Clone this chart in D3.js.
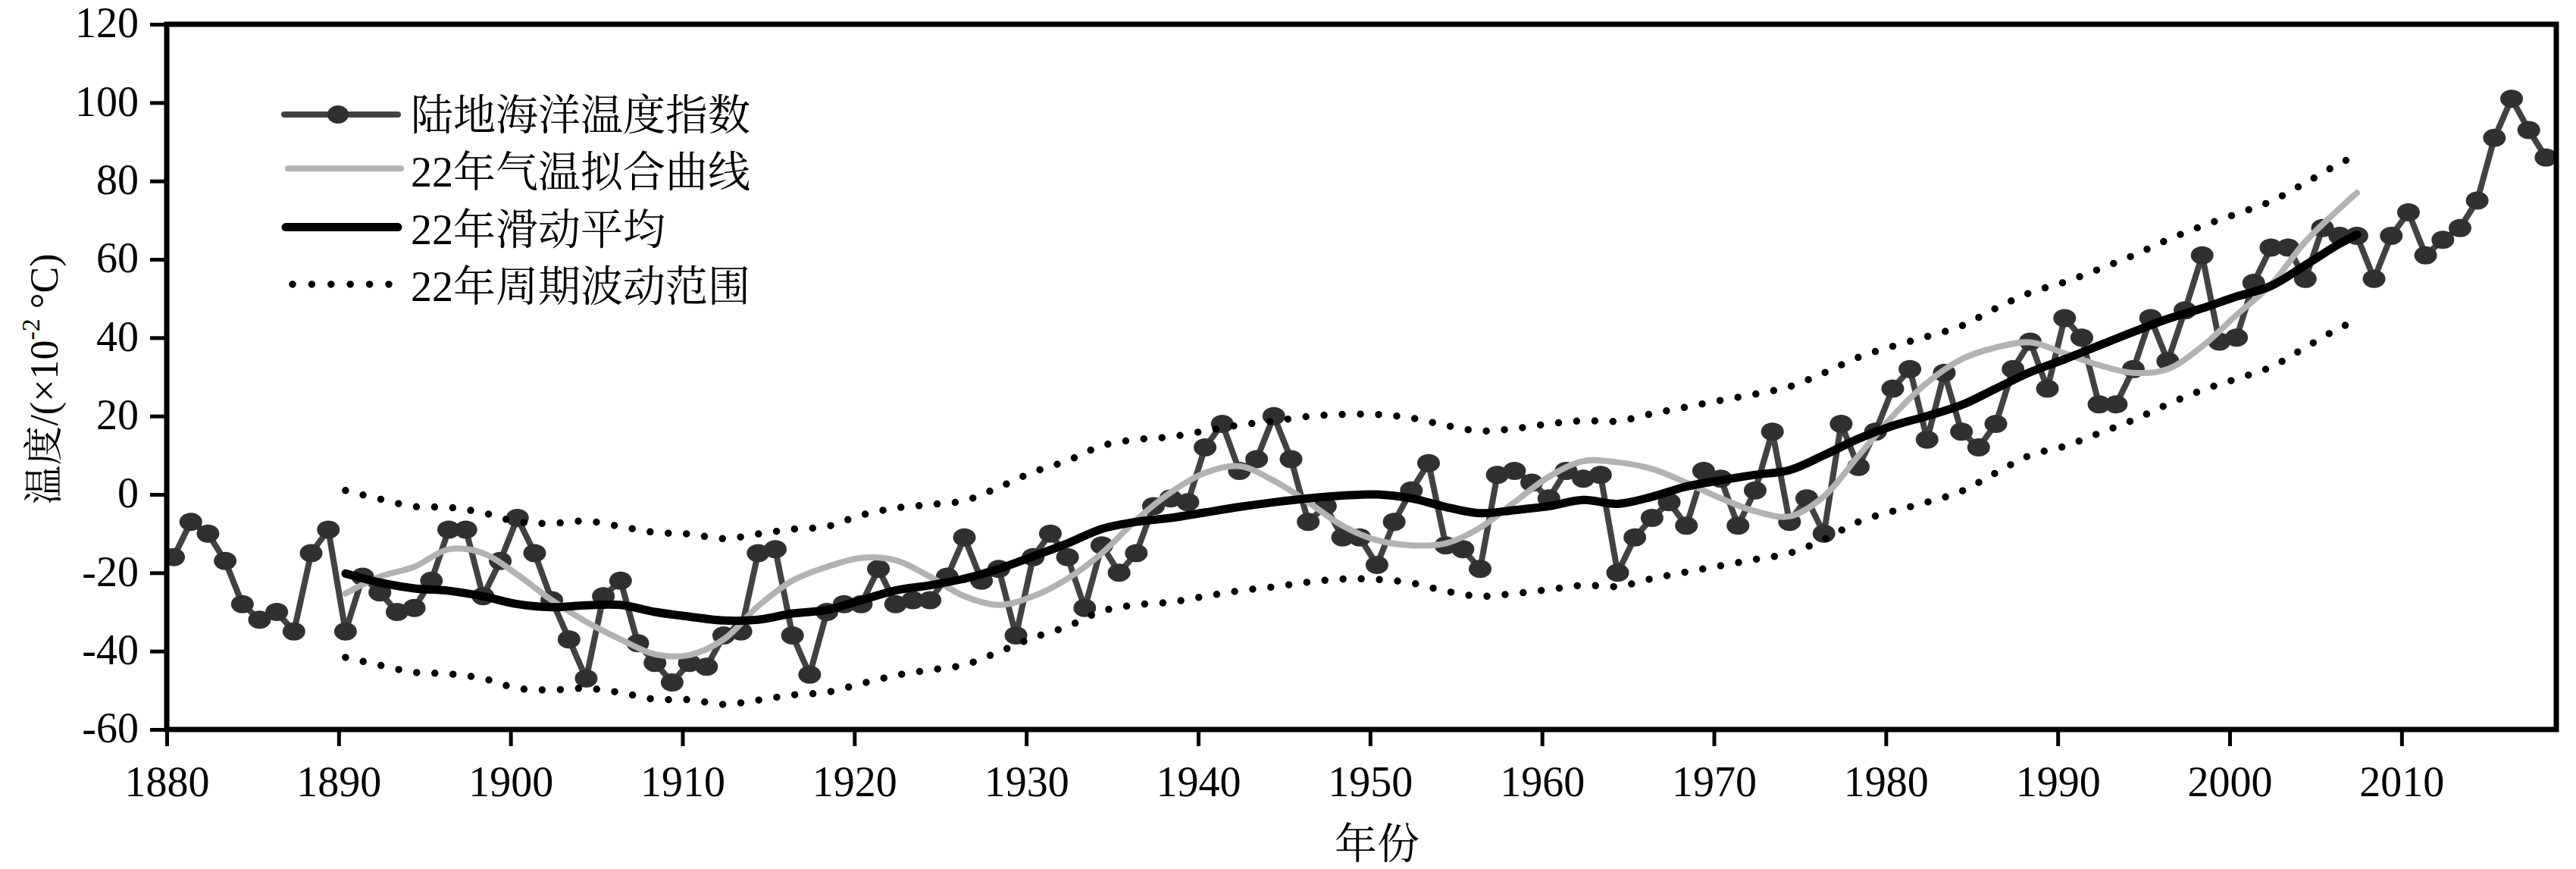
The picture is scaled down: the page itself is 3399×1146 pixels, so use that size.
<!DOCTYPE html>
<html>
<head>
<meta charset="utf-8">
<script src="https://cdn.jsdelivr.net/npm/d3@7"></script>
<style>
html,body{margin:0;padding:0;background:#fff;}
svg{display:block;}
</style>
</head>
<body>
<svg id="chart" width="3399" height="1146"></svg>
<script>
// ---------------- DATA ----------------
const firstYear = 1880;
const indexValues = [
  -16, -7, -10, -17, -28, -32, -30, -35, -15, -9,
  -35, -21, -25, -30, -29, -22, -9, -9, -26, -17,
  -6, -15, -27, -37, -47, -26, -22, -38, -43, -48,
  -43, -44, -36, -35, -15, -14, -36, -46, -30, -28,
  -28, -19, -28, -27, -27, -21, -11, -22, -19, -36,
  -16, -10, -16, -29, -13, -20, -15, -3, -1, -2,
  12, 18, 6, 9, 20, 9, -7, -3, -11, -11,
  -18, -7, 1, 8, -13, -14, -19, 5, 6, 3,
  -1, 6, 4, 5, -20, -11, -6, -2, -8, 6,
  4, -8, 1, 16, -7, -1, -10, 18, 7, 16,
  27, 32, 14, 31, 16, 12, 18, 32, 39, 27,
  45, 40, 23, 23, 32, 45, 34, 47, 61, 39,
  40, 54, 63, 63, 55, 68, 66, 66, 55, 66,
  72, 61, 65, 68, 75, 91, 101, 93, 86
];
const indexYears = indexValues.map((_, i) => firstYear + i);

const curveYears = [
  1890, 1892, 1894, 1896, 1898, 1900, 1902, 1904, 1906, 1908,
  1910, 1912, 1914, 1916, 1918, 1920, 1922, 1924, 1926, 1928,
  1930, 1932, 1934, 1936, 1938, 1940, 1942, 1944, 1946, 1948,
  1950, 1952, 1954, 1956, 1958, 1960, 1962, 1964, 1966, 1968,
  1970, 1972, 1974, 1976, 1978, 1980, 1982, 1984, 1986, 1988,
  1990, 1992, 1994, 1996, 1998, 2000, 2002, 2004, 2006, 2007
];
const fitValues = [
  -25.3, -21, -18.5, -14, -15, -20.5, -27, -32.5, -37, -40.8,
  -41, -37, -28.5, -22, -18.5, -16.2, -16.8, -21, -26, -28.2,
  -26, -21.5, -15, -6.5, 0.5, 5.5, 7.2, 3.5, -2, -8,
  -11.7, -13, -12.5, -8.5, -2, 4.5, 8.5, 8.2, 6.5, 3,
  -1, -4.3, -5.6, -0.5, 9.8, 20, 28.5, 34.5, 37.5, 38.8,
  36, 33, 31, 32, 37.8, 45.8, 53.5, 64.5, 73, 77
];
const movingAvgValues = [
  -20.2, -22.5, -24, -24.6, -26, -28, -28.8, -28.3, -28.2, -30,
  -31.2, -32.2, -32, -30.4, -29.5, -27, -24.5, -23.2, -21.5, -19,
  -15.8, -12.5, -8.8, -7, -6, -4.6, -3.2, -2, -1, -0.3,
  0, -1, -3.2, -4.8, -4, -3, -1.4, -2.4, -0.6, 2,
  3.6, 5, 6.2, 10, 14.2, 17.5, 20, 22.8, 27, 31.2,
  34.5, 38, 41.5, 44.8, 47.5, 50.5, 53.2, 58.5, 64, 66.3
];
const upperValues = [
  1, -1.2, -3.1, -3.3, -4.7, -7, -7.4, -6.8, -8.2, -9.7,
  -10.1, -11.3, -10.1, -8.9, -8.2, -5.3, -3.5, -2.6, -1.6, 1.8,
  5.7, 8.6, 12.4, 14, 14.7, 16.2, 17.7, 18.7, 19.9, 20.4,
  20.4, 19.5, 17.6, 16.2, 16.8, 18, 18.8, 18.7, 20.6, 22.3,
  24, 25.6, 27.5, 31, 35, 37.8, 40.3, 43, 47.5, 51.5,
  54.2, 57.5, 61, 65, 68.5, 71.6, 74.8, 79.5, 84.5, 86.5
];
const lowerValues = [
  -41.6, -43.6, -45.4, -45.8, -47, -49.5, -49.9, -49.5, -50.6, -52.3,
  -52.4, -53.6, -52.5, -51.2, -50.5, -48.3, -46.2, -44.8, -43.5, -40.2,
  -36.6, -33.7, -29.8, -28.2, -27.5, -26, -24.6, -23.6, -22.4, -21.6,
  -21.7, -22.6, -24.7, -26, -25.3, -24.3, -23.2, -23.5, -21.5, -19.8,
  -18.2, -16.6, -15, -11.5, -7, -4.3, -2, 0.8, 5.5, 10,
  12.3, 15.6, 19, 23, 26.6, 29.5, 32.5, 37.5, 42.5, 44.4
];

const xTickValues = [1880, 1890, 1900, 1910, 1920, 1930, 1940, 1950, 1960, 1970, 1980, 1990, 2000, 2010];
const yTickValues = [-60, -40, -20, 0, 20, 40, 60, 80, 100, 120];
const legendLabels = ["陆地海洋温度指数", "22年气温拟合曲线", "22年滑动平均", "22年周期波动范围"];
const xAxisTitle = "年份";
const yAxisTitleMain = "温度/(×10";
const yAxisTitleSup = "-2";
const yAxisTitleEnd = " °C)";

// ---------------- STYLE ----------------
const FONT = "Liberation Serif, Noto Serif CJK SC, Noto Sans CJK SC, serif";
const COL_INDEX_LINE = "#424242";
const COL_INDEX_MARK = "#303030";
const COL_FIT = "#b2b2b2";
const COL_MA = "#000000";

const plot = {left: 220, right: 3373, top: 32, bottom: 962};

const svg = d3.select("#chart");
svg.append("rect").attr("width", 3399).attr("height", 1146).attr("fill", "#fff");

const x = d3.scaleLinear().domain([1880, 2019]).range([plot.left, plot.right]);
// series are drawn slightly right of the year ticks in the original
const xData = x.copy().domain([1879.6, 2018.6]);
const y = d3.scaleLinear().domain([-60, 120]).range([plot.bottom, plot.top]);

svg.append("defs").append("clipPath").attr("id", "plotClip")
  .append("rect")
  .attr("x", plot.left).attr("y", plot.top)
  .attr("width", plot.right - plot.left).attr("height", plot.bottom - plot.top);

const g = svg.append("g").attr("clip-path", "url(#plotClip)");

// land-ocean index
const indexData = indexYears.map((yr, i) => ({yr, v: indexValues[i]}));
g.append("path")
  .datum(indexData)
  .attr("fill", "none")
  .attr("stroke", COL_INDEX_LINE)
  .attr("stroke-width", 8)
  .attr("stroke-linejoin", "round")
  .attr("d", d3.line().x(d => xData(d.yr)).y(d => y(d.v)));

g.selectAll("ellipse.pt")
  .data(indexData)
  .enter().append("ellipse")
  .attr("class", "pt")
  .attr("cx", d => xData(d.yr))
  .attr("cy", d => y(d.v))
  .attr("rx", 15)
  .attr("ry", 12)
  .attr("fill", COL_INDEX_MARK);

const curveLine = vals => d3.line()
  .curve(d3.curveCatmullRom.alpha(0.5))
  .x((d, i) => xData(curveYears[i]))
  .y(d => y(d))(vals);

// fit curve
g.append("path")
  .attr("fill", "none")
  .attr("stroke", COL_FIT)
  .attr("stroke-width", 8)
  .attr("stroke-linecap", "round")
  .attr("d", curveLine(fitValues));

// moving average
g.append("path")
  .attr("fill", "none")
  .attr("stroke", COL_MA)
  .attr("stroke-width", 11)
  .attr("stroke-linecap", "round")
  .attr("d", curveLine(movingAvgValues));

// band (dotted)
[upperValues, lowerValues].forEach(vals => {
  g.append("path")
    .attr("fill", "none")
    .attr("stroke", "#000")
    .attr("stroke-width", 9.5)
    .attr("stroke-linecap", "round")
    .attr("stroke-dasharray", "0 24")
    .attr("d", curveLine(vals));
});

// ---------------- AXES ----------------
const xAxis = d3.axisBottom(x).tickValues(xTickValues).tickSize(22).tickPadding(26).tickFormat(d => String(d));
const gx = svg.append("g").attr("transform", `translate(0,${plot.bottom})`).call(xAxis)
  .attr("font-family", FONT).attr("font-size", 56);
gx.select(".domain").remove();
gx.selectAll(".tick line").attr("stroke", "#000").attr("stroke-width", 5);
gx.selectAll(".tick text").attr("fill", "#000");

const yAxis = d3.axisLeft(y).tickValues(yTickValues).tickSize(22).tickPadding(15).tickFormat(d => String(d));
const gy = svg.append("g").attr("transform", `translate(${plot.left},0)`).call(yAxis)
  .attr("font-family", FONT).attr("font-size", 56);
gy.select(".domain").remove();
gy.selectAll(".tick line").attr("stroke", "#000").attr("stroke-width", 5);
gy.selectAll(".tick text").attr("fill", "#000").attr("dy", "0.30em");

// frame
svg.append("rect")
  .attr("x", plot.left).attr("y", plot.top)
  .attr("width", plot.right - plot.left).attr("height", plot.bottom - plot.top)
  .attr("fill", "none").attr("stroke", "#000").attr("stroke-width", 7);

// titles
svg.append("text")
  .attr("x", 1817).attr("y", 1113)
  .attr("text-anchor", "middle").attr("dominant-baseline", "central")
  .attr("font-family", FONT).attr("font-size", 56).attr("fill", "#000")
  .text(xAxisTitle);

const yt = svg.append("text")
  .attr("transform", "translate(58,500) rotate(-90)")
  .attr("text-anchor", "middle").attr("dominant-baseline", "central")
  .attr("font-family", FONT).attr("font-size", 52).attr("fill", "#000");
yt.append("tspan").text(yAxisTitleMain);
yt.append("tspan").attr("font-size", 34).attr("dy", -18).text(yAxisTitleSup);
yt.append("tspan").attr("dy", 18).text(yAxisTitleEnd);

// ---------------- LEGEND ----------------
const legendTop = 151, legendStep = 75.3;
const lineX0 = 375, lineX1 = 525, textX = 542;
const lg = svg.append("g");
legendLabels.forEach((label, i) => {
  const cy = legendTop + i * legendStep;
  const row = lg.append("g");
  if (i === 0) {
    row.append("line").attr("x1", lineX0).attr("x2", lineX1).attr("y1", cy).attr("y2", cy)
      .attr("stroke", COL_INDEX_LINE).attr("stroke-width", 8).attr("stroke-linecap", "round");
    row.append("ellipse").attr("cx", (lineX0 + lineX1) / 2 - 4).attr("cy", cy).attr("rx", 14).attr("ry", 12)
      .attr("fill", COL_INDEX_MARK);
  } else if (i === 1) {
    row.append("line").attr("x1", lineX0 + 5).attr("x2", lineX1 + 4).attr("y1", cy - 4).attr("y2", cy - 4)
      .attr("stroke", COL_FIT).attr("stroke-width", 8).attr("stroke-linecap", "round");
  } else if (i === 2) {
    row.append("line").attr("x1", lineX0 + 2).attr("x2", lineX1).attr("y1", cy - 2).attr("y2", cy - 2)
      .attr("stroke", COL_MA).attr("stroke-width", 11).attr("stroke-linecap", "round");
  } else {
    row.append("line").attr("x1", lineX0 + 11).attr("x2", lineX1 - 10).attr("y1", cy - 2).attr("y2", cy - 2)
      .attr("stroke", "#000").attr("stroke-width", 9.5).attr("stroke-linecap", "round")
      .attr("stroke-dasharray", "0 25.4");
  }
  row.append("text")
    .attr("x", textX).attr("y", cy + 1)
    .attr("dominant-baseline", "central")
    .attr("font-family", FONT).attr("font-size", 56).attr("fill", "#000")
    .text(label);
});
</script>
</body>
</html>
